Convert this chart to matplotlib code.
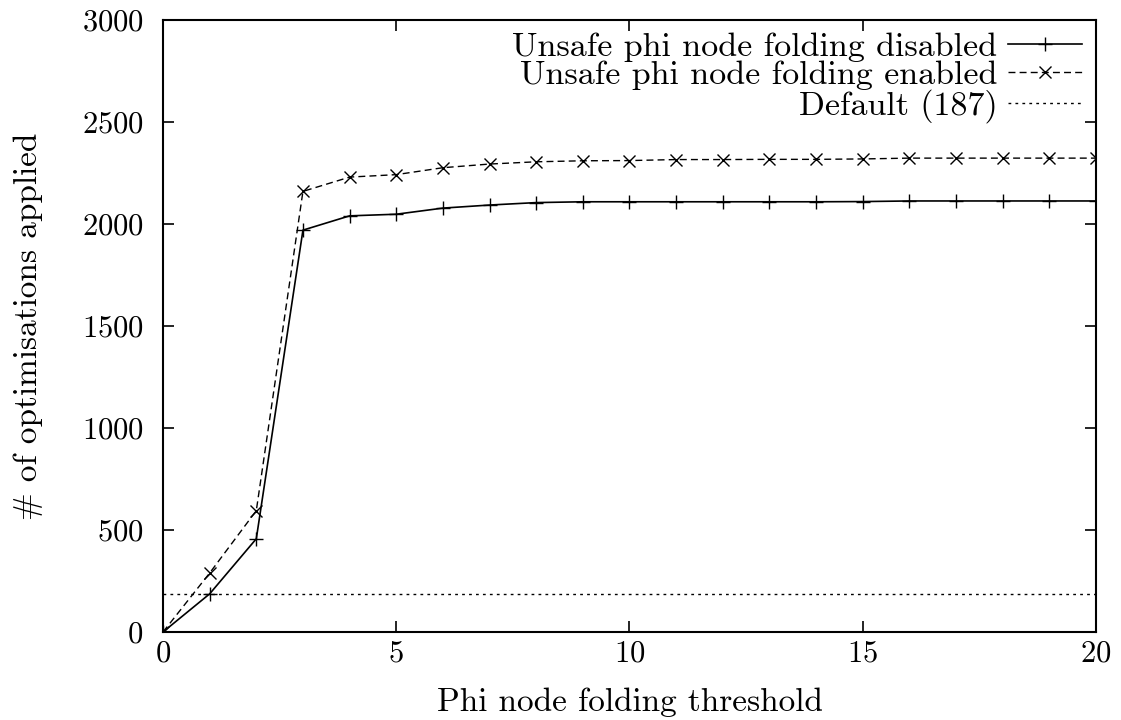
import matplotlib
matplotlib.use("Agg")
import matplotlib.pyplot as plt

# threshold values
thresholds = list(range(0, 21))

# optimisations applied, unsafe phi node folding disabled
disabled = [0, 187, 457, 1970, 2040, 2048, 2078, 2093, 2105, 2109, 2109,
            2109, 2109, 2109, 2109, 2110, 2113, 2113, 2113, 2113, 2113]

# optimisations applied, unsafe phi node folding enabled
enabled = [0, 289, 595, 2160, 2230, 2242, 2276, 2294, 2305, 2310, 2311,
           2316, 2316, 2317, 2317, 2319, 2323, 2323, 2323, 2323, 2323]

default_value = 187

plt.rcParams['font.family'] = 'cmr10'
plt.rcParams['mathtext.fontset'] = 'cm'
plt.rcParams['axes.formatter.use_mathtext'] = True
plt.rcParams['font.size'] = 23

fig = plt.figure(figsize=(11.21, 7.2), dpi=100)
ax = fig.add_axes([0.1454, 0.1222, 0.8323, 0.85])

ax.plot(thresholds, disabled, color='black', linestyle='-', linewidth=1.2,
        marker='+', markersize=10, markeredgewidth=1.0,
        label='Unsafe phi node folding disabled')
ax.plot(thresholds, enabled, color='black', linestyle=(0, (5, 3)), linewidth=1.0,
        marker='x', markersize=8, markeredgewidth=1.0,
        label='Unsafe phi node folding enabled')
ax.axhline(default_value, color='black', linestyle=(0, (2, 3)), linewidth=1.0,
           label='Default (187)')

ax.set_xlim(0, 20)
ax.set_ylim(0, 3000)
ax.set_xticks([0, 5, 10, 15, 20])
ax.set_yticks([0, 500, 1000, 1500, 2000, 2500, 3000])
ax.tick_params(direction='in', length=8, width=1.2, top=True, right=True, labelsize=22)
ax.tick_params(axis='x', pad=6)
ax.tick_params(axis='y', pad=14)
for s in ax.spines.values():
    s.set_linewidth(1.5)

ax.set_xlabel('Phi node folding threshold', fontsize=24, labelpad=14)
ax.set_ylabel('# of optimisations applied', fontsize=24, labelpad=28)

ax.legend(loc='upper right', frameon=False, markerfirst=False, alignment='right',
          handlelength=2.2, handletextpad=0.3, labelspacing=-0.03,
          borderaxespad=0.0, fontsize=24.5, bbox_to_anchor=(1.0, 1.003))

fig.savefig('out.png', dpi=100)
